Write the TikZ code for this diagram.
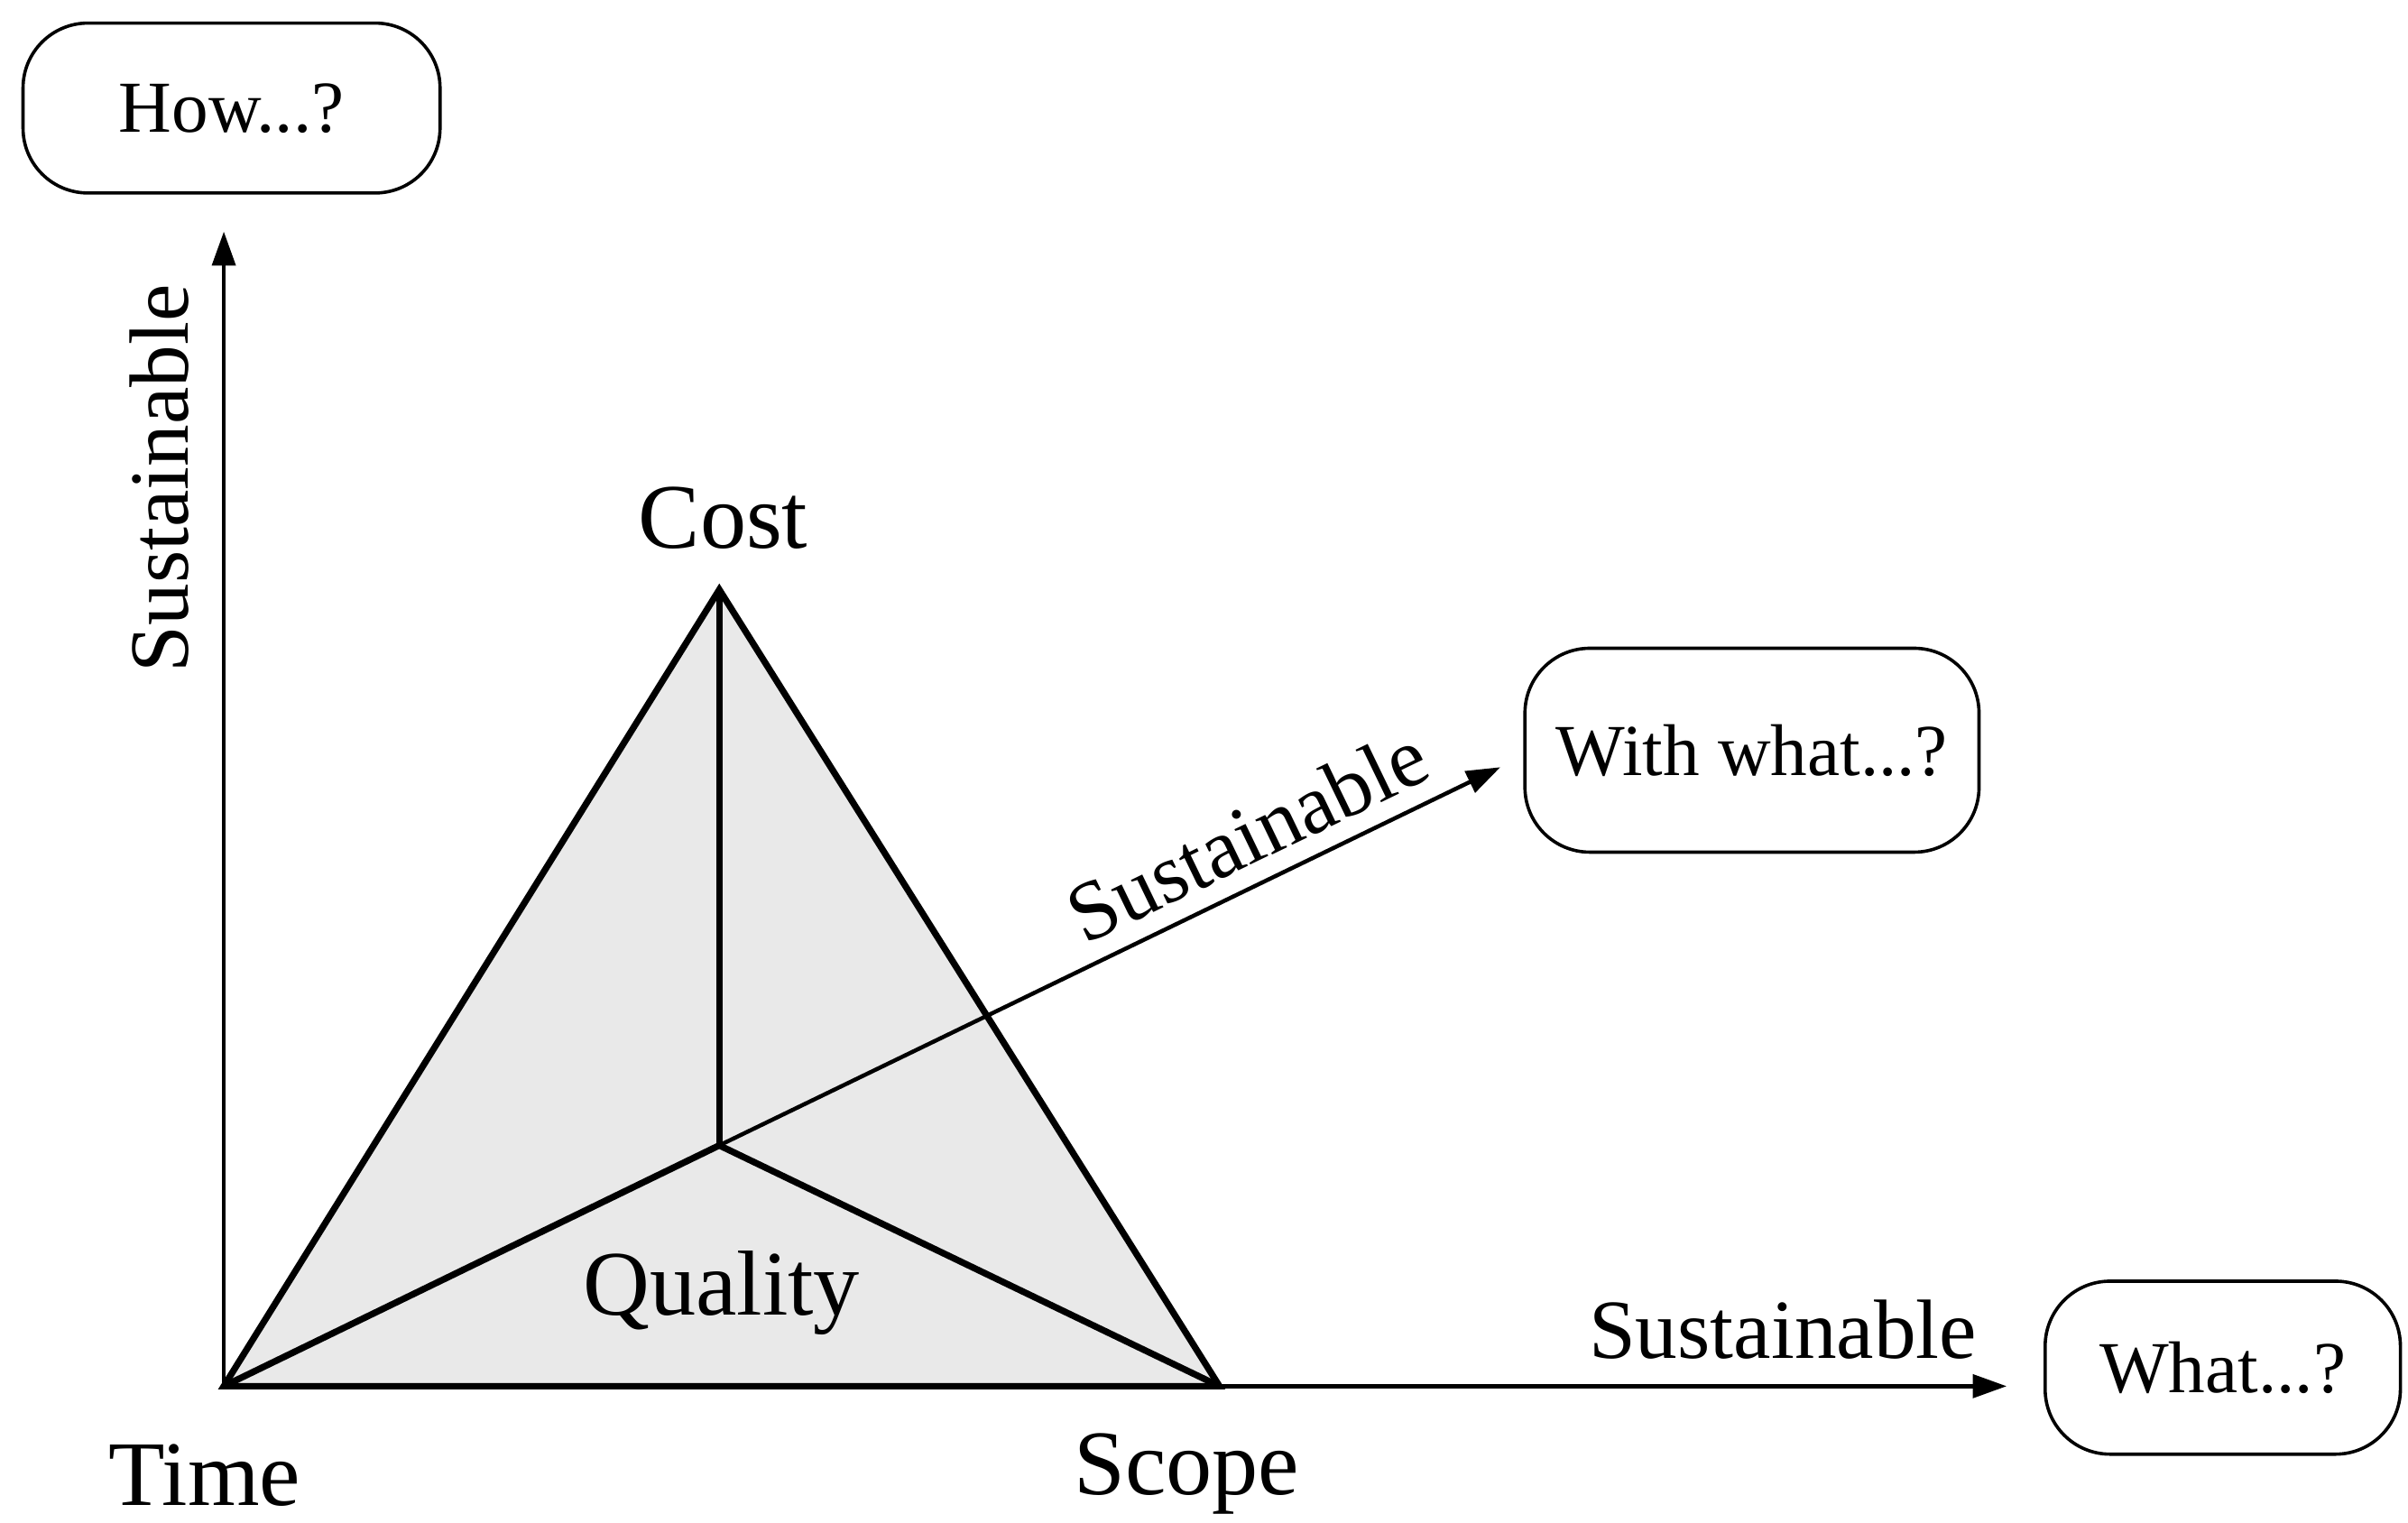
\documentclass[tikz,border=0pt]{standalone}
\usepackage{fontspec}
\setmainfont{Liberation Serif}
\usetikzlibrary{arrows.meta}
\begin{document}
\begin{tikzpicture}[x=0.01cm,y=-0.01cm,
  big/.style={font=\fontsize{17}{20}\selectfont, inner sep=0pt},
  sus/.style={font=\fontsize{15.5}{18}\selectfont, inner sep=0pt},
  qbox/.style={draw, line width=0.6pt, rounded corners=0.42cm, font=\fontsize{13.5}{16}\selectfont, inner sep=0pt},
  edge/.style={line width=1.2pt, line join=miter},
  axis/.style={line width=0.75pt, -{Triangle[length=0.22cm,width=0.15cm]}}
]
\useasboundingbox (0,0) rectangle (1560,986.6);
% key points
\coordinate (T) at (145,898);
\coordinate (C) at (466,382);
\coordinate (S) at (790,898);
\coordinate (Q) at (466,742);
\coordinate (howtip) at (145,150);
\coordinate (wwtip) at (972,497);
\coordinate (whtip) at (1300,898);
% triangle
\fill[gray!17] (T) -- (C) -- (S) -- cycle;
% axes
\draw[axis] (T) -- (howtip);
\draw[axis] (T) -- (whtip);
\draw[axis] (Q) -- (wwtip);
% triangle edges
\draw[edge] (T) -- (C) -- (S) -- cycle;
\draw[edge] (C) -- (Q);
\draw[edge] (T) -- (Q) -- (S);
% boxes
\node[qbox, minimum width=2.70cm, minimum height=1.10cm] (how) at (150,70) {How...?};
\node[qbox, minimum width=2.94cm, minimum height=1.32cm] (ww) at (1135,486) {With what...?};
\node[qbox, minimum width=2.30cm, minimum height=1.12cm] (wh) at (1440,886) {What...?};
% labels
\node[big, anchor=base west] (lcost) at (413,355) {Cost};
\node[big, anchor=base west] (lqual) at (377,852) {Quality};
\node[big, anchor=base west] (ltime) at (70,975) {Time};
\node[big, anchor=base west] (lscope) at (695,968) {Scope};
\node[sus, rotate=90] (sv) at (103,310) {Sustainable};
\node[sus, anchor=base] (sh) at (1155,880) {Sustainable};
\node[sus, rotate=25.8] (sd) at (808,541) {Sustainable};
\end{tikzpicture}
\end{document}
